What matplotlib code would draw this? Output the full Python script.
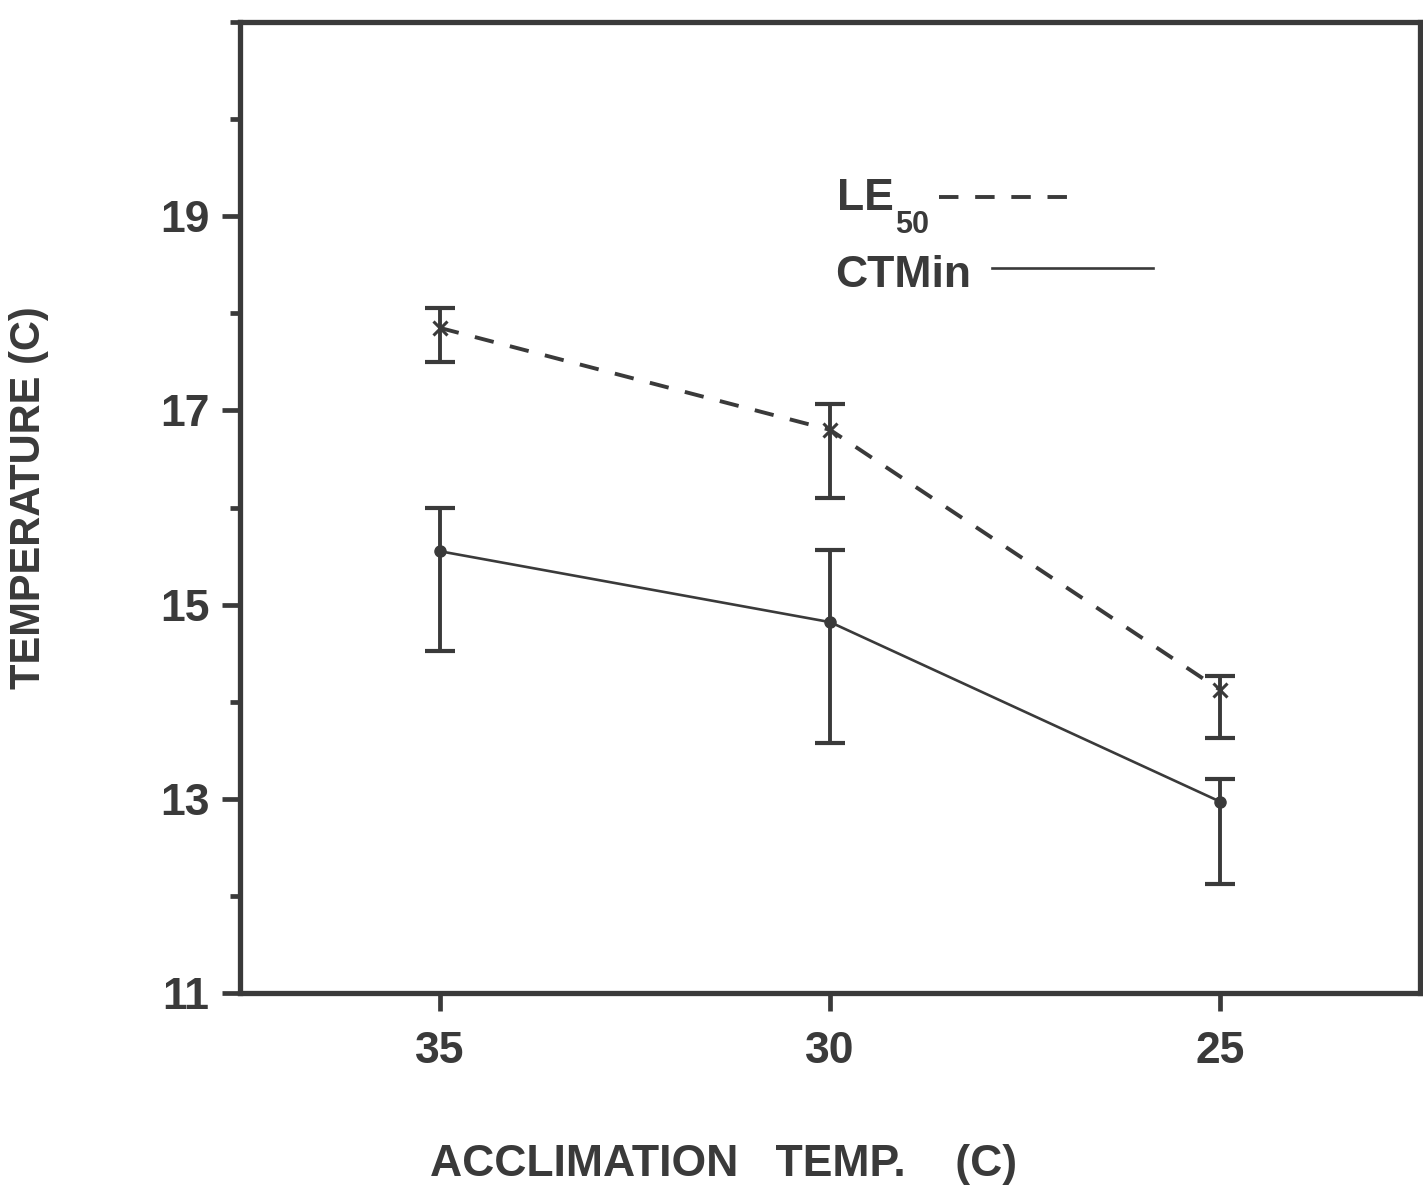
import matplotlib.pyplot as plt
from matplotlib.lines import Line2D
from matplotlib.ticker import MultipleLocator

# acclimation temperature (C)
accl = [35, 30, 25]

le50 = [17.85, 16.8, 14.12]
le50_lo = [17.5, 16.1, 13.63]
le50_hi = [18.05, 17.07, 14.27]

ctmin = [15.55, 14.82, 12.97]
ctmin_lo = [14.52, 13.58, 12.12]
ctmin_hi = [16.0, 15.56, 13.2]

INK = "#3a3a3a"
DASH = (5.0, 4.3)

plt.rcParams.update({
    "font.family": ["Liberation Sans", "DejaVu Sans"],
    "font.weight": "bold",
    "axes.labelweight": "bold",
    "axes.edgecolor": INK,
    "axes.labelcolor": INK,
    "text.color": INK,
    "xtick.color": INK,
    "ytick.color": INK,
})


def _err(vals, lo, hi):
    return [[v - l for v, l in zip(vals, lo)], [h - v for v, h in zip(vals, hi)]]


def main() -> None:
    fig = plt.figure(figsize=(14.23, 11.90), dpi=100)
    ax = fig.add_axes([0.1687, 0.1655, 0.8293, 0.816])

    ax.errorbar(accl, le50, yerr=_err(le50, le50_lo, le50_hi),
                fmt="none", ecolor=INK, elinewidth=2.8, capsize=11,
                capthick=3.0, zorder=3)
    ax.plot(accl, le50, color=INK, lw=2.8, dashes=DASH, zorder=2)
    ax.plot(accl, le50, ls="none", marker="x", ms=10, mew=2.2, color=INK,
            zorder=4)

    ax.errorbar(accl, ctmin, yerr=_err(ctmin, ctmin_lo, ctmin_hi),
                fmt="none", ecolor=INK, elinewidth=2.8, capsize=11,
                capthick=3.0, zorder=3)
    ax.plot(accl, ctmin, color=INK, lw=1.9, zorder=2)
    ax.plot(accl, ctmin, ls="none", marker="o", ms=8, color=INK, zorder=4)

    ax.set_xlim(37.56, 22.44)
    ax.set_ylim(11, 21)
    ax.set_xticks(accl)
    ax.set_yticks([11, 13, 15, 17, 19])
    ax.yaxis.set_minor_locator(MultipleLocator(1))
    ax.tick_params(axis="both", which="major", labelsize=32, width=3.4,
                   length=13, pad=9)
    ax.tick_params(axis="y", which="minor", width=3.4, length=7)
    ax.tick_params(axis="x", pad=14)
    for s in ax.spines.values():
        s.set_linewidth(3.8)

    ax.set_xlabel("ACCLIMATION   TEMP.    (C)", fontsize=32)
    ax.xaxis.set_label_coords(0.41, -0.155)
    ax.set_ylabel("TEMPERATURE (C)", fontsize=30)
    ax.yaxis.set_label_coords(-0.162, 0.51)

    # hand-made legend: label first, line sample after it
    tr = ax.transAxes
    le = ax.text(0.506, 0.806, "LE", transform=tr, fontsize=32,
                 va="baseline", ha="left")
    ax.annotate("50", xy=(1, 0), xycoords=le, xytext=(1, -10),
                textcoords="offset points", fontsize=22,
                va="baseline", ha="left")
    ax.add_line(Line2D([0.592, 0.706], [0.82, 0.82], transform=tr,
                       color=INK, lw=2.8, dashes=DASH))
    ax.text(0.504, 0.727, "CTMin", transform=tr, fontsize=32,
            va="baseline", ha="left")
    ax.add_line(Line2D([0.637, 0.774], [0.747, 0.747], transform=tr,
                       color=INK, lw=1.9))

    fig.savefig("out.png", dpi=100)


if __name__ == "__main__":
    main()
